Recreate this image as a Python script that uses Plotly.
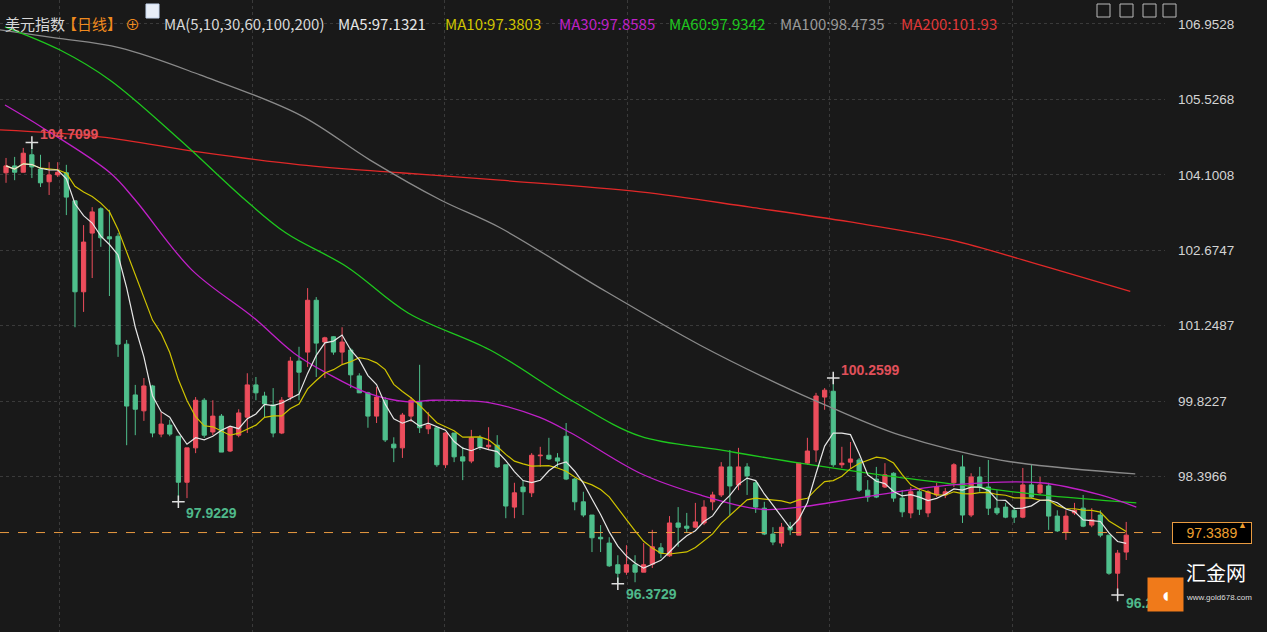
import pandas as pd
import plotly.graph_objects as go

# 日线 K线数据
opens = [104.14,104.27,104.15,104.48,104.21,103.97,104.10,104.14,103.61,101.89,
         103.00,103.46,102.93,102.94,100.90,99.94,99.64,100.11,99.20,99.37,
         99.16,98.29,98.94,99.84,99.24,99.54,98.88,99.18,99.52,100.13,
         99.92,99.75,99.22,99.90,100.58,100.75,101.73,100.94,101.04,100.75,
         100.79,100.30,99.98,99.54,99.84,99.01,98.94,99.54,99.81,99.30,
         99.32,98.62,99.22,98.77,98.69,99.13,98.96,98.99,98.62,97.82,
         98.20,98.09,98.79,98.80,98.75,99.16,98.35,97.92,97.67,97.25,
         97.14,96.73,96.59,96.73,96.59,96.74,97.05,96.90,97.52,97.46,
         97.44,97.52,97.92,98.05,98.58,98.24,98.58,98.28,97.80,97.31,
         97.14,97.44,97.29,98.65,98.90,99.90,100.01,98.62,98.67,98.71,
         98.14,98.35,98.20,98.46,97.99,97.71,98.11,97.71,98.05,98.05,
         98.28,98.58,97.67,98.39,98.20,97.80,97.82,97.76,97.63,98.24,
         98.09,98.22,97.65,97.35,97.71,97.80,97.48,97.67,97.29,96.57,
         96.97]
closes = [104.27,104.15,104.51,104.25,103.95,104.10,104.15,103.68,101.89,102.83,
          103.40,102.91,102.89,100.90,99.73,99.67,100.11,99.22,99.39,99.20,
          98.29,98.94,99.84,99.18,99.54,98.86,99.33,99.60,100.13,99.98,
          99.77,99.22,99.84,100.58,100.37,101.73,100.92,101.02,100.75,100.94,
          100.32,99.98,99.54,99.90,99.09,98.94,99.56,99.84,99.32,99.37,
          98.62,99.22,98.77,98.69,99.13,98.96,98.99,98.58,97.84,98.09,
          98.11,98.80,98.80,98.73,98.69,98.35,97.92,97.67,97.24,97.22,
          96.71,96.57,96.73,96.59,96.73,97.07,96.95,97.52,97.44,97.42,
          97.54,97.82,98.05,98.58,98.22,98.58,98.41,97.82,97.31,97.16,
          97.44,97.39,98.65,98.88,99.92,100.03,98.62,98.65,98.73,98.14,
          98.01,98.01,98.43,97.99,97.73,98.11,97.78,98.11,98.20,98.11,
          98.62,97.67,98.39,98.20,97.80,97.71,97.63,97.63,98.24,98.01,
          98.24,97.65,97.37,97.65,97.76,97.46,97.58,97.29,96.57,96.95,
          97.29]
highs = [104.42,104.44,104.61,104.71,104.48,104.34,104.34,104.29,103.61,103.15,
         103.49,103.49,103.44,103.00,100.98,100.13,100.26,100.13,99.62,99.47,
         99.16,98.94,99.90,99.88,99.84,99.58,99.35,99.67,100.35,100.28,
         100.00,100.07,99.90,100.66,100.85,101.96,101.79,101.04,101.05,101.22,
         100.83,100.35,100.00,100.09,99.90,99.14,99.60,99.90,100.51,99.62,
         99.32,99.24,99.22,98.96,99.28,99.18,99.33,99.18,98.62,98.28,
         98.33,98.84,98.96,99.13,98.84,99.41,98.37,98.11,97.67,97.48,
         97.25,96.91,97.10,96.91,97.14,97.39,97.14,97.65,97.82,97.71,
         97.90,97.95,98.11,98.67,98.90,98.94,98.65,98.33,97.92,97.44,
         97.52,97.54,98.65,99.13,99.98,100.07,100.26,98.96,99.05,98.75,
         98.33,98.58,98.65,98.48,98.14,98.20,98.18,98.14,98.28,98.18,
         98.65,98.80,98.46,98.58,98.71,98.14,97.90,97.82,98.56,98.62,
         98.39,98.28,97.76,97.76,97.90,98.05,97.80,97.76,97.29,97.01,
         97.54]
lows = [103.95,104.00,104.15,104.04,103.87,103.72,104.06,103.34,101.22,101.51,
        102.15,102.74,101.81,100.66,98.99,99.18,99.45,99.14,99.14,99.16,
        97.92,97.99,98.84,99.13,99.18,98.86,98.86,99.14,99.22,99.84,
        99.52,99.14,99.20,99.84,99.84,100.47,100.28,100.26,100.70,100.51,
        100.07,100.03,99.32,99.41,99.05,98.67,98.75,99.43,99.22,99.20,
        98.58,98.56,98.67,98.33,98.65,98.90,98.90,98.56,97.61,97.61,
        97.67,98.01,98.58,98.71,98.58,98.33,97.76,97.63,96.97,96.97,
        96.69,96.37,96.54,96.40,96.59,96.67,96.86,96.88,97.07,97.33,
        97.42,97.48,97.76,98.01,97.67,98.14,98.05,97.71,97.29,97.10,
        97.07,97.29,97.29,98.62,98.67,99.66,98.58,98.56,98.56,98.11,
        97.92,97.99,98.18,97.92,97.63,97.61,97.67,97.63,98.01,97.99,
        98.20,97.52,97.63,98.11,97.67,97.67,97.61,97.52,97.61,97.99,
        98.05,97.39,97.35,97.20,97.67,97.44,97.44,97.25,96.54,96.16,
        96.82]
days = list(range(len(opens)))

# 长周期均线 (读取的点)
ma30_x = [-0.12,4.06,12.07,14.97,21.59,28.67,33.43,37.26,41.90,46.66,49.56,56.18,61.87,65.58,73.59,80.56,87.52,92.16,99.59,109.81,120.02,126.99,131.17]
ma30_y = [105.42,105.01,104.14,103.63,102.30,101.41,100.73,100.35,99.98,99.81,99.84,99.79,99.52,99.22,98.46,98.05,97.78,97.82,98.01,98.24,98.28,98.05,97.82]
ma60_x = [-0.12,6.27,12.07,20.20,27.74,32.50,39.58,46.66,56.18,65.58,73.59,82.88,92.16,101.45,110.74,120.02,131.17]
ma60_y = [106.90,106.46,105.89,104.76,103.63,103.00,102.36,101.49,100.79,99.84,99.16,98.90,98.65,98.43,98.24,98.05,97.90]
ma100_x = [-0.70,5.69,13.23,22.52,34.13,42.25,50.38,57.34,68.95,80.56,89.84,95.65,103.77,115.38,131.05]
ma100_y = [106.84,106.69,106.50,105.99,105.23,104.38,103.63,103.10,101.96,100.88,100.13,99.71,99.18,98.71,98.45]
ma200_x = [-0.70,10.91,22.52,34.13,45.73,57.34,73.59,86.36,97.97,109.58,121.18,130.47]
ma200_y = [104.95,104.82,104.53,104.29,104.14,104.00,103.78,103.49,103.21,102.87,102.34,101.90]

ytick_vals = [106.9528, 105.5268, 104.1008, 102.6747, 101.2487, 99.8227, 98.3966]
vgrid_days = [6.15, 28.55, 50.84, 72.08, 95.53, 116.77]
last_price = 97.3389

# 标注的高低点: (天, 价格, 文字, 文字价格位置, 颜色)
marks = [(3, 104.71, "104.7099", 104.87, "#e0505a"),
         (20, 97.92, "97.9229", 97.71, "#4fb88a"),
         (71, 96.37, "96.3729", 96.18, "#4fb88a"),
         (96, 100.26, "100.2599", 100.41, "#e0505a"),
         (129, 96.16, "96.2", 96.01, "#4fb88a")]

BG = "#191919"
RED = "#ec4d5c"
GREEN = "#4fbf8c"
FONT = "Noto Sans CJK SC, Noto Sans, Arial"
W = 1165  # 绘图区宽度(像素)

closes_s = pd.Series(closes)
ma5 = closes_s.rolling(5, min_periods=1).mean()
ma10 = closes_s.rolling(10, min_periods=1).mean()

fig = go.Figure()
fig.add_trace(go.Candlestick(x=days, open=opens, high=highs, low=lows, close=closes,
                             increasing=dict(line=dict(color=RED, width=1), fillcolor=RED),
                             decreasing=dict(line=dict(color=GREEN, width=1), fillcolor=GREEN),
                             whiskerwidth=0, hoverinfo="skip"))
fig.add_trace(go.Scatter(x=ma200_x, y=ma200_y, mode="lines", line=dict(color="#e02828", width=1.3, shape="spline")))
fig.add_trace(go.Scatter(x=ma100_x, y=ma100_y, mode="lines", line=dict(color="#8a8a8a", width=1.3, shape="spline")))
fig.add_trace(go.Scatter(x=ma60_x, y=ma60_y, mode="lines", line=dict(color="#1ec81e", width=1.3, shape="spline")))
fig.add_trace(go.Scatter(x=ma30_x, y=ma30_y, mode="lines", line=dict(color="#c020c8", width=1.3, shape="spline")))
fig.add_trace(go.Scatter(x=days, y=ma10, mode="lines", line=dict(color="#d0c400", width=1.2)))
fig.add_trace(go.Scatter(x=days, y=ma5, mode="lines", line=dict(color="#e6e6e6", width=1.2)))

fig.add_trace(go.Scatter(x=[m[0] for m in marks], y=[m[1] for m in marks], mode="markers",
                         marker=dict(symbol="cross-thin", size=9, line=dict(color="#e0e0e0", width=1.5))))
for d, p, txt, ty, col in marks:
    fig.add_annotation(x=d + 0.7, y=ty, text="<b>" + txt + "</b>", showarrow=False, xanchor="left",
                       font=dict(color=col, size=14, family="Arial"))

fig.add_hline(y=last_price, line=dict(color="#e89a40", width=1, dash="dash"))
fig.add_annotation(xref="paper", x=1.006, y=last_price, text="97.3389", showarrow=False, xanchor="left",
                   font=dict(color="#f0a030", size=14, family="Arial"), bgcolor="#000000",
                   bordercolor="#e89a40", borderwidth=1, borderpad=2, width=74)
fig.add_annotation(xref="paper", x=1.072, y=last_price + 0.15, text="▲", showarrow=False,
                   font=dict(color="#f0a030", size=9))

# 顶部标题
header = [(3, "美元指数", "#d8d8d8"), (60, "【日线】", "#f08a1e"), (123, "⊕", "#f08a1e"),
          (162, "MA(5,10,30,60,100,200)", "#d8d8d8"), (336, "MA5:97.1321", "#e6e6e6"),
          (443, "MA10:97.3803", "#d0c400"), (557, "MA30:97.8585", "#c020c8"),
          (667, "MA60:97.9342", "#1ec81e"), (778, "MA100:98.4735", "#9a9a9a"),
          (899, "MA200:101.93", "#e03838")]
for px, txt, col in header:
    fig.add_annotation(xref="paper", yref="paper", x=px / W, y=1 - 11 / 632, text=txt,
                       showarrow=False, xanchor="left", font=dict(color=col, size=15, family=FONT))
fig.add_shape(type="rect", xref="paper", yref="paper", x0=146 / W, x1=159 / W,
              y0=1 - 18 / 632, y1=1 - 4 / 632, line=dict(color="#c8d8f0", width=1), fillcolor="#e8eef8")
for px in (1097, 1120, 1143, 1163):
    fig.add_shape(type="rect", xref="paper", yref="paper", x0=px / W, x1=(px + 13) / W,
                  y0=1 - 17 / 632, y1=1 - 4 / 632, line=dict(color="#bbbbbb", width=1))

# 汇金网 logo
fig.add_annotation(xref="paper", yref="paper", x=1147 / W, y=1 - 577 / 632, xanchor="left", yanchor="top",
                   text="<b>◖</b>", showarrow=False, width=33, height=31, bgcolor="#f07a1a",
                   font=dict(color="white", size=20))
fig.add_annotation(xref="paper", yref="paper", x=1184 / W, y=1 - 589 / 632, xanchor="left",
                   text="汇金网", showarrow=False, font=dict(color="white", size=20, family=FONT))
fig.add_annotation(xref="paper", yref="paper", x=1184 / W, y=1 - 604 / 632, xanchor="left",
                   text="www.gold678.com", showarrow=False, font=dict(color="#dddddd", size=8, family="Arial"))

fig.update_layout(
    width=1267, height=632, paper_bgcolor=BG, plot_bgcolor=BG, showlegend=False,
    margin=dict(l=0, r=102, t=0, b=0, autoexpand=False),
    xaxis=dict(range=[-0.7, 134.5], rangeslider=dict(visible=False), tickvals=vgrid_days,
               showticklabels=False, showgrid=True, gridcolor="#3a3a3a", griddash="dot",
               zeroline=False, showline=False),
    yaxis=dict(range=[95.459, 107.406], side="right", tickvals=ytick_vals,
               ticktext=["%.4f" % v for v in ytick_vals], showgrid=True, gridcolor="#3a3a3a",
               griddash="dot", zeroline=False, ticklabelstandoff=12,
               tickfont=dict(color="#d4d4d4", size=13.5, family="Arial")),
)

# 去掉页面默认边距, 不显示工具栏
fig.write_html("out.html", config={"displayModeBar": False},
               post_script="document.body.style.margin='0';document.body.style.background='#191919';")
